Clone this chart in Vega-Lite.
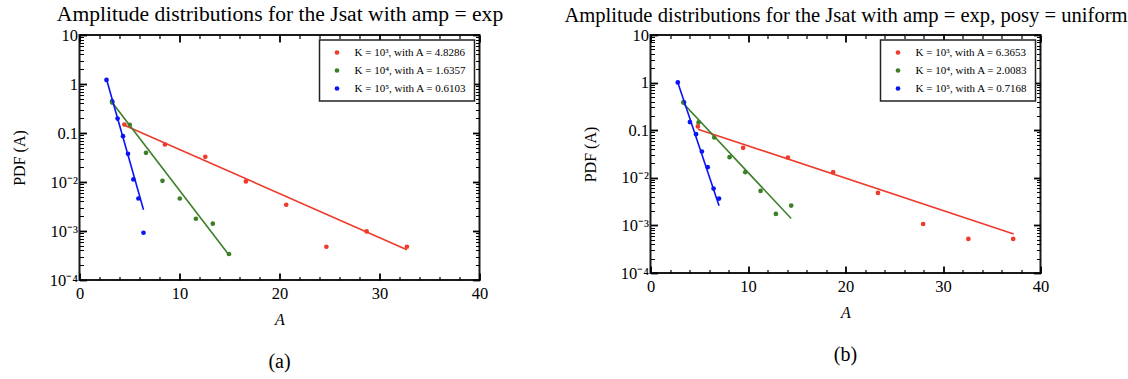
{
  "$schema": "https://vega.github.io/schema/vega-lite/v6.json",
  "padding": {"left": 9.5, "top": 2, "right": 0, "bottom": 0},
  "background": "white",
  "config": {
    "font": "Liberation Serif",
    "view": {"stroke": "#1a1a1a", "strokeWidth": 2},
    "axis": {
      "labelFont": "Liberation Serif", "labelFontSize": 16.5, "labelColor": "black",
      "titleFont": "Liberation Serif", "titleFontSize": 16, "titleFontWeight": "normal", "titleColor": "black",
      "tickColor": "black", "domain": false, "grid": false, "labelOverlap": false, "labelFlush": false
    },
    "legend": {
      "labelFont": "Liberation Serif", "labelFontSize": 11, "labelColor": "black", "labelLimit": 300,
      "symbolType": "circle", "symbolSize": 22, "symbolStrokeWidth": 0,
      "fillColor": "white", "strokeColor": "#222", "strokeWidth": 1.5,
      "padding": 7, "rowPadding": 6, "symbolOffset": 5, "labelOffset": 12,
      "orient": "top-right", "offset": 5, "title": null
    },
    "title": {"font": "Liberation Serif", "fontSize": 20, "fontWeight": "normal", "color": "black"}
  },
  "datasets": {
    "ptsA": [
      {"A": 2.70, "pdf": 1.21, "series": "K = 10⁵, with A = 0.6103"},
      {"A": 3.27, "pdf": 0.445, "series": "K = 10⁵, with A = 0.6103"},
      {"A": 3.81, "pdf": 0.197, "series": "K = 10⁵, with A = 0.6103"},
      {"A": 4.35, "pdf": 0.086, "series": "K = 10⁵, with A = 0.6103"},
      {"A": 4.85, "pdf": 0.0376, "series": "K = 10⁵, with A = 0.6103"},
      {"A": 5.39, "pdf": 0.0113, "series": "K = 10⁵, with A = 0.6103"},
      {"A": 5.89, "pdf": 0.00461, "series": "K = 10⁵, with A = 0.6103"},
      {"A": 6.40, "pdf": 0.000922, "series": "K = 10⁵, with A = 0.6103"},
      {"A": 3.27, "pdf": 0.418, "series": "K = 10⁴, with A = 1.6357"},
      {"A": 5.03, "pdf": 0.147, "series": "K = 10⁴, with A = 1.6357"},
      {"A": 6.65, "pdf": 0.0394, "series": "K = 10⁴, with A = 1.6357"},
      {"A": 8.30, "pdf": 0.01057, "series": "K = 10⁴, with A = 1.6357"},
      {"A": 10.03, "pdf": 0.00461, "series": "K = 10⁴, with A = 1.6357"},
      {"A": 11.64, "pdf": 0.00178, "series": "K = 10⁴, with A = 1.6357"},
      {"A": 13.33, "pdf": 0.00141, "series": "K = 10⁴, with A = 1.6357"},
      {"A": 14.95, "pdf": 0.000339, "series": "K = 10⁴, with A = 1.6357"},
      {"A": 4.49, "pdf": 0.149, "series": "K = 10³, with A = 4.8286"},
      {"A": 8.55, "pdf": 0.0582, "series": "K = 10³, with A = 4.8286"},
      {"A": 12.58, "pdf": 0.0327, "series": "K = 10³, with A = 4.8286"},
      {"A": 16.64, "pdf": 0.01026, "series": "K = 10³, with A = 4.8286"},
      {"A": 20.67, "pdf": 0.00343, "series": "K = 10³, with A = 4.8286"},
      {"A": 24.69, "pdf": 0.000477, "series": "K = 10³, with A = 4.8286"},
      {"A": 28.71, "pdf": 0.00098, "series": "K = 10³, with A = 4.8286"},
      {"A": 32.74, "pdf": 0.000477, "series": "K = 10³, with A = 4.8286"}
    ],
    "fitA": [
      {"A": 4.49, "pdf": 0.144, "series": "K = 10³, with A = 4.8286"},
      {"A": 32.74, "pdf": 0.000415, "series": "K = 10³, with A = 4.8286"},
      {"A": 3.27, "pdf": 0.418, "series": "K = 10⁴, with A = 1.6357"},
      {"A": 14.95, "pdf": 0.000323, "series": "K = 10⁴, with A = 1.6357"},
      {"A": 2.70, "pdf": 1.25, "series": "K = 10⁵, with A = 0.6103"},
      {"A": 6.40, "pdf": 0.00271, "series": "K = 10⁵, with A = 0.6103"}
    ],
    "ptsB": [
      {"A": 2.80, "pdf": 1.01, "series": "K = 10⁵, with A = 0.7168"},
      {"A": 3.44, "pdf": 0.383, "series": "K = 10⁵, with A = 0.7168"},
      {"A": 4.04, "pdf": 0.148, "series": "K = 10⁵, with A = 0.7168"},
      {"A": 4.67, "pdf": 0.0826, "series": "K = 10⁵, with A = 0.7168"},
      {"A": 5.27, "pdf": 0.0357, "series": "K = 10⁵, with A = 0.7168"},
      {"A": 5.87, "pdf": 0.0167, "series": "K = 10⁵, with A = 0.7168"},
      {"A": 6.47, "pdf": 0.00594, "series": "K = 10⁵, with A = 0.7168"},
      {"A": 7.03, "pdf": 0.00366, "series": "K = 10⁵, with A = 0.7168"},
      {"A": 3.36, "pdf": 0.383, "series": "K = 10⁴, with A = 2.0083"},
      {"A": 4.93, "pdf": 0.146, "series": "K = 10⁴, with A = 2.0083"},
      {"A": 6.54, "pdf": 0.0703, "series": "K = 10⁴, with A = 2.0083"},
      {"A": 8.11, "pdf": 0.0271, "series": "K = 10⁴, with A = 2.0083"},
      {"A": 9.72, "pdf": 0.0131, "series": "K = 10⁴, with A = 2.0083"},
      {"A": 11.29, "pdf": 0.00531, "series": "K = 10⁴, with A = 2.0083"},
      {"A": 12.86, "pdf": 0.00174, "series": "K = 10⁴, with A = 2.0083"},
      {"A": 14.43, "pdf": 0.00261, "series": "K = 10⁴, with A = 2.0083"},
      {"A": 4.86, "pdf": 0.120, "series": "K = 10³, with A = 6.3653"},
      {"A": 9.50, "pdf": 0.0427, "series": "K = 10³, with A = 6.3653"},
      {"A": 14.09, "pdf": 0.0267, "series": "K = 10³, with A = 6.3653"},
      {"A": 18.73, "pdf": 0.0131, "series": "K = 10³, with A = 6.3653"},
      {"A": 23.33, "pdf": 0.00482, "series": "K = 10³, with A = 6.3653"},
      {"A": 27.96, "pdf": 0.00107, "series": "K = 10³, with A = 6.3653"},
      {"A": 32.60, "pdf": 0.000519, "series": "K = 10³, with A = 6.3653"},
      {"A": 37.20, "pdf": 0.000519, "series": "K = 10³, with A = 6.3653"}
    ],
    "fitB": [
      {"A": 4.86, "pdf": 0.105, "series": "K = 10³, with A = 6.3653"},
      {"A": 37.25, "pdf": 0.00066, "series": "K = 10³, with A = 6.3653"},
      {"A": 3.18, "pdf": 0.40, "series": "K = 10⁴, with A = 2.0083"},
      {"A": 14.43, "pdf": 0.0014, "series": "K = 10⁴, with A = 2.0083"},
      {"A": 2.80, "pdf": 1.01, "series": "K = 10⁵, with A = 0.7168"},
      {"A": 7.03, "pdf": 0.0026, "series": "K = 10⁵, with A = 0.7168"}
    ]
  },
  "bounds": "flush",
  "spacing": 171,
  "resolve": {"scale": {"color": "independent", "x": "independent", "y": "independent"}, "legend": {"color": "independent"}},
  "hconcat": [
    {
      "width": 400,
      "height": 245,
      "title": {"text": "(a)", "orient": "bottom", "frame": "group", "anchor": "middle", "offset": 24},
      "resolve": {"axis": {"x": "independent", "y": "independent"}},
      "layer": [
        {
          "data": {"name": "ptsA"},
          "mark": {"type": "circle", "size": 22, "opacity": 1},
          "encoding": {
            "x": {"field": "A", "type": "quantitative", "scale": {"domain": [0, 40], "nice": false, "zero": false},
              "axis": {"orient": "bottom", "title": "A", "titleFontStyle": "italic", "titlePadding": 10, "labelPadding": 12,
                "values": [0, 10, 20, 30, 40], "tickSize": -7, "tickWidth": 1.8}},
            "y": {"field": "pdf", "type": "quantitative", "scale": {"type": "log", "domain": [0.0001, 10], "nice": false},
              "axis": {"orient": "left", "title": "PDF (A)", "titlePadding": 22, "labelPadding": 9,
                "values": [0.0001, 0.001, 0.01, 0.1, 1, 10], "tickSize": -7, "tickWidth": 1.8,
                "labelExpr": "datum.value > 5 ? '10' : datum.value > 0.5 ? '1' : datum.value > 0.05 ? '0.1' : datum.value > 0.005 ? '10⁻²' : datum.value > 0.0005 ? '10⁻³' : '10⁻⁴'"}},
            "color": {"field": "series", "type": "nominal",
              "scale": {"domain": ["K = 10³, with A = 4.8286", "K = 10⁴, with A = 1.6357", "K = 10⁵, with A = 0.6103"], "range": ["#ef3b2c", "#3b7f27", "#0a14f5"]},
              "legend": {"orient": "top-right", "title": null}}
          }
        },
        {
          "data": {"name": "fitA"},
          "mark": {"type": "line", "strokeWidth": 1.6},
          "encoding": {
            "x": {"field": "A", "type": "quantitative", "scale": {"domain": [0, 40], "nice": false, "zero": false},
              "axis": {"orient": "top", "title": "Amplitude distributions for the Jsat with amp = exp", "titleFontSize": 21.6, "titlePadding": 9, "labels": false,
                "values": [0, 10, 20, 30, 40], "tickSize": -7, "tickWidth": 1.8}},
            "y": {"field": "pdf", "type": "quantitative", "scale": {"type": "log", "domain": [0.0001, 10], "nice": false},
              "axis": {"orient": "right", "title": null, "labels": false,
                "values": [0.0001, 0.001, 0.01, 0.1, 1, 10], "tickSize": -7, "tickWidth": 1.8}},
            "color": {"field": "series", "type": "nominal", "legend": null}
          }
        },
        {
          "data": {"name": "fitA"},
          "mark": {"type": "line", "strokeWidth": 1.6, "opacity": 0},
          "encoding": {
            "x": {"field": "A", "type": "quantitative", "scale": {"domain": [0, 40], "nice": false, "zero": false},
              "axis": {"orient": "bottom", "title": null, "labels": false,
                "values": [2,4,6,8,12,14,16,18,22,24,26,28,32,34,36,38], "tickSize": -3.5, "tickWidth": 1.2}},
            "y": {"field": "pdf", "type": "quantitative", "scale": {"type": "log", "domain": [0.0001, 10], "nice": false},
              "axis": {"orient": "left", "title": null, "labels": false,
                "values": [0.0002,0.0003,0.0004,0.0005,0.0006,0.0007,0.0008,0.0009,0.002,0.003,0.004,0.005,0.006,0.007,0.008,0.009,0.02,0.03,0.04,0.05,0.06,0.07,0.08,0.09,0.2,0.3,0.4,0.5,0.6,0.7,0.8,0.9,2,3,4,5,6,7,8,9], "tickSize": -4, "tickWidth": 1}},
            "color": {"field": "series", "type": "nominal", "legend": null}
          }
        },
        {
          "data": {"name": "fitA"},
          "mark": {"type": "line", "strokeWidth": 1.6, "opacity": 0},
          "encoding": {
            "x": {"field": "A", "type": "quantitative", "scale": {"domain": [0, 40], "nice": false, "zero": false},
              "axis": {"orient": "top", "title": null, "labels": false,
                "values": [2,4,6,8,12,14,16,18,22,24,26,28,32,34,36,38], "tickSize": -3.5, "tickWidth": 1.2}},
            "y": {"field": "pdf", "type": "quantitative", "scale": {"type": "log", "domain": [0.0001, 10], "nice": false},
              "axis": {"orient": "right", "title": null, "labels": false,
                "values": [0.0002,0.0003,0.0004,0.0005,0.0006,0.0007,0.0008,0.0009,0.002,0.003,0.004,0.005,0.006,0.007,0.008,0.009,0.02,0.03,0.04,0.05,0.06,0.07,0.08,0.09,0.2,0.3,0.4,0.5,0.6,0.7,0.8,0.9,2,3,4,5,6,7,8,9], "tickSize": -4, "tickWidth": 1}},
            "color": {"field": "series", "type": "nominal", "legend": null}
          }
        }
      ]
    },
    {
      "width": 390,
      "height": 238,
      "title": {"text": "(b)", "orient": "bottom", "frame": "group", "anchor": "middle", "offset": 24},
      "resolve": {"axis": {"x": "independent", "y": "independent"}},
      "layer": [
        {
          "data": {"name": "ptsB"},
          "mark": {"type": "circle", "size": 22, "opacity": 1},
          "encoding": {
            "x": {"field": "A", "type": "quantitative", "scale": {"domain": [0, 40], "nice": false, "zero": false},
              "axis": {"orient": "bottom", "title": "A", "titleFontStyle": "italic", "titlePadding": 10, "labelPadding": 12,
                "values": [0, 10, 20, 30, 40], "tickSize": -7, "tickWidth": 1.8}},
            "y": {"field": "pdf", "type": "quantitative", "scale": {"type": "log", "domain": [0.0001, 10], "nice": false},
              "axis": {"orient": "left", "title": "PDF (A)", "titlePadding": 22, "labelPadding": 9,
                "values": [0.0001, 0.001, 0.01, 0.1, 1, 10], "tickSize": -7, "tickWidth": 1.8,
                "labelExpr": "datum.value > 5 ? '10' : datum.value > 0.5 ? '1' : datum.value > 0.05 ? '0.1' : datum.value > 0.005 ? '10⁻²' : datum.value > 0.0005 ? '10⁻³' : '10⁻⁴'"}},
            "color": {"field": "series", "type": "nominal",
              "scale": {"domain": ["K = 10³, with A = 6.3653", "K = 10⁴, with A = 2.0083", "K = 10⁵, with A = 0.7168"], "range": ["#ef3b2c", "#3b7f27", "#0a14f5"]},
              "legend": {"orient": "top-right", "title": null}}
          }
        },
        {
          "data": {"name": "fitB"},
          "mark": {"type": "line", "strokeWidth": 1.6},
          "encoding": {
            "x": {"field": "A", "type": "quantitative", "scale": {"domain": [0, 40], "nice": false, "zero": false},
              "axis": {"orient": "top", "title": "Amplitude distributions for the Jsat with amp = exp, posy = uniform", "titleFontSize": 20.6, "titlePadding": 9, "labels": false,
                "values": [0, 10, 20, 30, 40], "tickSize": -7, "tickWidth": 1.8}},
            "y": {"field": "pdf", "type": "quantitative", "scale": {"type": "log", "domain": [0.0001, 10], "nice": false},
              "axis": {"orient": "right", "title": null, "labels": false,
                "values": [0.0001, 0.001, 0.01, 0.1, 1, 10], "tickSize": -7, "tickWidth": 1.8}},
            "color": {"field": "series", "type": "nominal", "legend": null}
          }
        },
        {
          "data": {"name": "fitB"},
          "mark": {"type": "line", "strokeWidth": 1.6, "opacity": 0},
          "encoding": {
            "x": {"field": "A", "type": "quantitative", "scale": {"domain": [0, 40], "nice": false, "zero": false},
              "axis": {"orient": "bottom", "title": null, "labels": false,
                "values": [2,4,6,8,12,14,16,18,22,24,26,28,32,34,36,38], "tickSize": -3.5, "tickWidth": 1.2}},
            "y": {"field": "pdf", "type": "quantitative", "scale": {"type": "log", "domain": [0.0001, 10], "nice": false},
              "axis": {"orient": "left", "title": null, "labels": false,
                "values": [0.0002,0.0003,0.0004,0.0005,0.0006,0.0007,0.0008,0.0009,0.002,0.003,0.004,0.005,0.006,0.007,0.008,0.009,0.02,0.03,0.04,0.05,0.06,0.07,0.08,0.09,0.2,0.3,0.4,0.5,0.6,0.7,0.8,0.9,2,3,4,5,6,7,8,9], "tickSize": -4, "tickWidth": 1}},
            "color": {"field": "series", "type": "nominal", "legend": null}
          }
        },
        {
          "data": {"name": "fitB"},
          "mark": {"type": "line", "strokeWidth": 1.6, "opacity": 0},
          "encoding": {
            "x": {"field": "A", "type": "quantitative", "scale": {"domain": [0, 40], "nice": false, "zero": false},
              "axis": {"orient": "top", "title": null, "labels": false,
                "values": [2,4,6,8,12,14,16,18,22,24,26,28,32,34,36,38], "tickSize": -3.5, "tickWidth": 1.2}},
            "y": {"field": "pdf", "type": "quantitative", "scale": {"type": "log", "domain": [0.0001, 10], "nice": false},
              "axis": {"orient": "right", "title": null, "labels": false,
                "values": [0.0002,0.0003,0.0004,0.0005,0.0006,0.0007,0.0008,0.0009,0.002,0.003,0.004,0.005,0.006,0.007,0.008,0.009,0.02,0.03,0.04,0.05,0.06,0.07,0.08,0.09,0.2,0.3,0.4,0.5,0.6,0.7,0.8,0.9,2,3,4,5,6,7,8,9], "tickSize": -4, "tickWidth": 1}},
            "color": {"field": "series", "type": "nominal", "legend": null}
          }
        }
      ]
    }
  ]
}
